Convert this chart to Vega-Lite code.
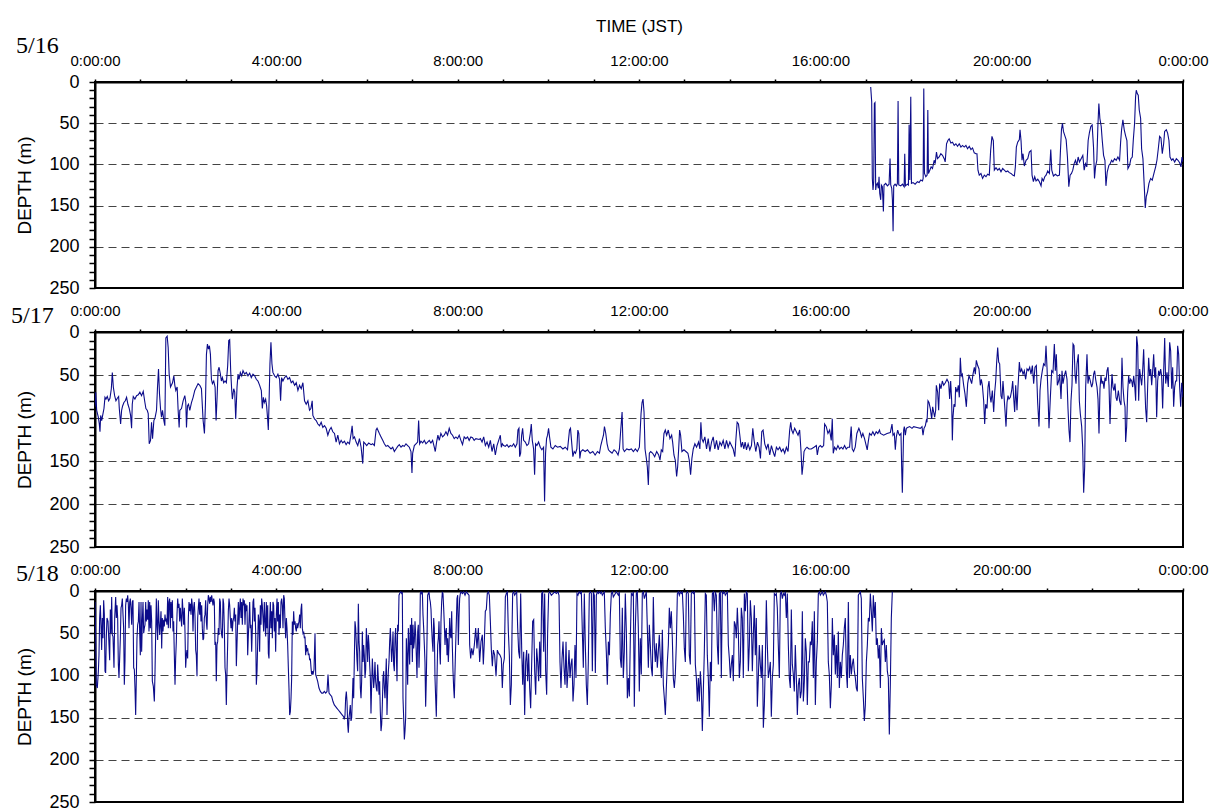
{
"$schema": "https://vega.github.io/schema/vega-lite/v6.json",
"background": "white",
"padding": {"left": 10, "top": 16, "right": 5, "bottom": 5},
"bounds": "flush",
"spacing": 44,
"config": {
 "view": {"stroke": "black", "strokeWidth": 2},
 "font": "Liberation Sans",
 "axis": {"domainColor": "black", "domainWidth": 2, "tickColor": "black", "tickWidth": 1.5, "labelColor": "black", "titleColor": "black", "labelFont": "Liberation Sans", "titleFont": "Liberation Sans", "titleFontWeight": "normal"},
 "title": {"font": "Liberation Serif", "fontSize": 24, "fontWeight": "normal", "color": "black", "anchor": "start", "frame": "group", "baseline": "alphabetic", "offset": 0}
},
"datasets": {
"d16": [
{"t":17.111,"d":6},{"t":17.133,"d":24},{"t":17.147,"d":117},{"t":17.162,"d":131},{"t":17.177,"d":121},{"t":17.192,"d":26},{"t":17.206,"d":25},{"t":17.221,"d":131},{"t":17.236,"d":125},{"t":17.258,"d":123},{"t":17.28,"d":129},{"t":17.295,"d":115},{"t":17.31,"d":135},{"t":17.332,"d":143},{"t":17.346,"d":125},{"t":17.368,"d":127},{"t":17.391,"d":157},{"t":17.405,"d":125},{"t":17.442,"d":123},{"t":17.479,"d":126},{"t":17.516,"d":124},{"t":17.538,"d":93},{"t":17.553,"d":125},{"t":17.575,"d":129},{"t":17.59,"d":143},{"t":17.605,"d":181},{"t":17.619,"d":126},{"t":17.649,"d":124},{"t":17.678,"d":126},{"t":17.7,"d":123},{"t":17.715,"d":23},{"t":17.73,"d":125},{"t":17.774,"d":126},{"t":17.811,"d":124},{"t":17.848,"d":127},{"t":17.862,"d":87},{"t":17.877,"d":126},{"t":17.921,"d":124},{"t":17.943,"d":125},{"t":17.958,"d":52},{"t":17.973,"d":119},{"t":17.995,"d":18},{"t":18.01,"d":123},{"t":18.046,"d":122},{"t":18.091,"d":124},{"t":18.142,"d":121},{"t":18.179,"d":122},{"t":18.216,"d":119},{"t":18.253,"d":120},{"t":18.268,"d":117},{"t":18.282,"d":8},{"t":18.297,"d":111},{"t":18.327,"d":115},{"t":18.356,"d":113},{"t":18.371,"d":34},{"t":18.385,"d":111},{"t":18.415,"d":107},{"t":18.444,"d":103},{"t":18.474,"d":105},{"t":18.511,"d":95},{"t":18.533,"d":99},{"t":18.562,"d":85},{"t":18.585,"d":93},{"t":18.621,"d":91},{"t":18.658,"d":87},{"t":18.695,"d":89},{"t":18.732,"d":93},{"t":18.754,"d":97},{"t":18.784,"d":75},{"t":18.813,"d":71},{"t":18.842,"d":69},{"t":18.879,"d":74},{"t":18.916,"d":73},{"t":18.953,"d":77},{"t":18.99,"d":75},{"t":19.027,"d":78},{"t":19.064,"d":75},{"t":19.101,"d":79},{"t":19.137,"d":77},{"t":19.174,"d":79},{"t":19.211,"d":77},{"t":19.248,"d":81},{"t":19.285,"d":78},{"t":19.322,"d":82},{"t":19.358,"d":80},{"t":19.395,"d":86},{"t":19.432,"d":87},{"t":19.455,"d":87},{"t":19.477,"d":107},{"t":19.506,"d":113},{"t":19.543,"d":111},{"t":19.58,"d":117},{"t":19.617,"d":113},{"t":19.654,"d":115},{"t":19.69,"d":112},{"t":19.727,"d":113},{"t":19.757,"d":83},{"t":19.786,"d":66},{"t":19.816,"d":71},{"t":19.838,"d":107},{"t":19.875,"d":104},{"t":19.912,"d":107},{"t":19.948,"d":105},{"t":19.985,"d":109},{"t":20.022,"d":105},{"t":20.059,"d":107},{"t":20.096,"d":109},{"t":20.133,"d":108},{"t":20.169,"d":110},{"t":20.206,"d":111},{"t":20.243,"d":113},{"t":20.28,"d":114},{"t":20.302,"d":103},{"t":20.324,"d":79},{"t":20.353,"d":73},{"t":20.39,"d":70},{"t":20.405,"d":58},{"t":20.427,"d":71},{"t":20.449,"d":95},{"t":20.471,"d":87},{"t":20.5,"d":102},{"t":20.538,"d":95},{"t":20.575,"d":93},{"t":20.611,"d":85},{"t":20.648,"d":83},{"t":20.67,"d":113},{"t":20.7,"d":121},{"t":20.729,"d":115},{"t":20.759,"d":120},{"t":20.796,"d":118},{"t":20.832,"d":121},{"t":20.869,"d":126},{"t":20.891,"d":117},{"t":20.921,"d":120},{"t":20.95,"d":115},{"t":20.98,"d":113},{"t":21.016,"d":108},{"t":21.053,"d":111},{"t":21.083,"d":82},{"t":21.105,"d":107},{"t":21.142,"d":114},{"t":21.186,"d":112},{"t":21.23,"d":114},{"t":21.274,"d":113},{"t":21.297,"d":83},{"t":21.319,"d":58},{"t":21.341,"d":50},{"t":21.363,"d":60},{"t":21.393,"d":65},{"t":21.422,"d":70},{"t":21.451,"d":91},{"t":21.481,"d":127},{"t":21.51,"d":113},{"t":21.54,"d":111},{"t":21.569,"d":107},{"t":21.599,"d":99},{"t":21.628,"d":95},{"t":21.657,"d":101},{"t":21.687,"d":91},{"t":21.716,"d":97},{"t":21.753,"d":93},{"t":21.79,"d":89},{"t":21.82,"d":107},{"t":21.849,"d":99},{"t":21.878,"d":103},{"t":21.908,"d":71},{"t":21.937,"d":61},{"t":21.967,"d":54},{"t":21.996,"d":52},{"t":22.026,"d":79},{"t":22.048,"d":117},{"t":22.07,"d":103},{"t":22.099,"d":95},{"t":22.122,"d":54},{"t":22.144,"d":26},{"t":22.166,"d":44},{"t":22.196,"d":54},{"t":22.219,"d":71},{"t":22.248,"d":89},{"t":22.278,"d":95},{"t":22.3,"d":126},{"t":22.329,"d":109},{"t":22.366,"d":101},{"t":22.396,"d":99},{"t":22.425,"d":95},{"t":22.453,"d":97},{"t":22.49,"d":93},{"t":22.527,"d":95},{"t":22.564,"d":91},{"t":22.601,"d":95},{"t":22.624,"d":73},{"t":22.645,"d":58},{"t":22.674,"d":46},{"t":22.704,"d":58},{"t":22.733,"d":65},{"t":22.763,"d":71},{"t":22.785,"d":105},{"t":22.822,"d":101},{"t":22.851,"d":93},{"t":22.881,"d":91},{"t":22.903,"d":71},{"t":22.932,"d":50},{"t":22.954,"d":18},{"t":22.969,"d":10},{"t":22.991,"d":14},{"t":23.013,"d":16},{"t":23.035,"d":34},{"t":23.065,"d":44},{"t":23.087,"d":81},{"t":23.116,"d":93},{"t":23.146,"d":127},{"t":23.168,"d":153},{"t":23.19,"d":139},{"t":23.219,"d":133},{"t":23.249,"d":123},{"t":23.286,"d":117},{"t":23.322,"d":119},{"t":23.359,"d":111},{"t":23.396,"d":103},{"t":23.425,"d":95},{"t":23.455,"d":81},{"t":23.484,"d":66},{"t":23.514,"d":68},{"t":23.543,"d":87},{"t":23.573,"d":75},{"t":23.595,"d":60},{"t":23.632,"d":58},{"t":23.661,"d":62},{"t":23.69,"d":71},{"t":23.713,"d":91},{"t":23.749,"d":95},{"t":23.779,"d":93},{"t":23.816,"d":97},{"t":23.853,"d":93},{"t":23.89,"d":95},{"t":23.926,"d":98},{"t":23.956,"d":103},{"t":23.978,"d":91},{"t":24.0,"d":97}
],
"d17": [
{"t":0.0,"d":87},{"t":0.015,"d":70},{"t":0.037,"d":91},{"t":0.073,"d":99},{"t":0.095,"d":107},{"t":0.11,"d":116},{"t":0.125,"d":97},{"t":0.147,"d":103},{"t":0.169,"d":97},{"t":0.198,"d":89},{"t":0.22,"d":76},{"t":0.242,"d":78},{"t":0.271,"d":75},{"t":0.301,"d":80},{"t":0.33,"d":77},{"t":0.36,"d":66},{"t":0.382,"d":47},{"t":0.404,"d":64},{"t":0.433,"d":74},{"t":0.462,"d":80},{"t":0.492,"d":77},{"t":0.521,"d":75},{"t":0.536,"d":89},{"t":0.565,"d":107},{"t":0.587,"d":91},{"t":0.609,"d":86},{"t":0.638,"d":82},{"t":0.668,"d":80},{"t":0.697,"d":76},{"t":0.726,"d":84},{"t":0.756,"d":89},{"t":0.785,"d":97},{"t":0.807,"d":112},{"t":0.822,"d":84},{"t":0.844,"d":75},{"t":0.88,"d":78},{"t":0.917,"d":74},{"t":0.954,"d":73},{"t":0.99,"d":70},{"t":1.027,"d":74},{"t":1.064,"d":69},{"t":1.101,"d":82},{"t":1.123,"d":89},{"t":1.152,"d":91},{"t":1.174,"d":95},{"t":1.196,"d":130},{"t":1.225,"d":126},{"t":1.247,"d":105},{"t":1.269,"d":124},{"t":1.299,"d":103},{"t":1.328,"d":99},{"t":1.357,"d":91},{"t":1.379,"d":64},{"t":1.401,"d":43},{"t":1.423,"d":72},{"t":1.445,"d":89},{"t":1.467,"d":99},{"t":1.489,"d":91},{"t":1.519,"d":103},{"t":1.541,"d":109},{"t":1.563,"d":7},{"t":1.592,"d":5},{"t":1.614,"d":18},{"t":1.636,"d":49},{"t":1.666,"d":64},{"t":1.71,"d":59},{"t":1.739,"d":51},{"t":1.761,"d":62},{"t":1.783,"d":68},{"t":1.812,"d":64},{"t":1.834,"d":91},{"t":1.856,"d":111},{"t":1.871,"d":91},{"t":1.908,"d":89},{"t":1.944,"d":80},{"t":1.981,"d":74},{"t":2.003,"d":82},{"t":2.018,"d":111},{"t":2.04,"d":86},{"t":2.062,"d":84},{"t":2.091,"d":91},{"t":2.128,"d":82},{"t":2.164,"d":76},{"t":2.201,"d":68},{"t":2.238,"d":64},{"t":2.274,"d":60},{"t":2.311,"d":62},{"t":2.348,"d":66},{"t":2.385,"d":103},{"t":2.414,"d":118},{"t":2.436,"d":84},{"t":2.458,"d":26},{"t":2.48,"d":14},{"t":2.502,"d":20},{"t":2.524,"d":16},{"t":2.546,"d":26},{"t":2.568,"d":55},{"t":2.59,"d":60},{"t":2.619,"d":57},{"t":2.649,"d":64},{"t":2.671,"d":103},{"t":2.693,"d":76},{"t":2.715,"d":45},{"t":2.737,"d":41},{"t":2.766,"d":49},{"t":2.788,"d":57},{"t":2.81,"d":53},{"t":2.839,"d":59},{"t":2.869,"d":57},{"t":2.898,"d":59},{"t":2.927,"d":39},{"t":2.95,"d":10},{"t":2.971,"d":9},{"t":2.993,"d":45},{"t":3.016,"d":68},{"t":3.03,"d":78},{"t":3.06,"d":66},{"t":3.082,"d":70},{"t":3.104,"d":101},{"t":3.133,"d":64},{"t":3.155,"d":49},{"t":3.177,"d":55},{"t":3.206,"d":47},{"t":3.236,"d":51},{"t":3.265,"d":45},{"t":3.302,"d":49},{"t":3.338,"d":47},{"t":3.375,"d":51},{"t":3.412,"d":48},{"t":3.448,"d":53},{"t":3.485,"d":49},{"t":3.522,"d":51},{"t":3.558,"d":55},{"t":3.595,"d":57},{"t":3.632,"d":62},{"t":3.669,"d":68},{"t":3.691,"d":89},{"t":3.713,"d":76},{"t":3.735,"d":82},{"t":3.764,"d":78},{"t":3.786,"d":86},{"t":3.808,"d":101},{"t":3.823,"d":114},{"t":3.837,"d":87},{"t":3.859,"d":37},{"t":3.881,"d":12},{"t":3.903,"d":37},{"t":3.925,"d":47},{"t":3.962,"d":51},{"t":3.999,"d":53},{"t":4.035,"d":49},{"t":4.072,"d":55},{"t":4.094,"d":80},{"t":4.116,"d":53},{"t":4.145,"d":57},{"t":4.182,"d":53},{"t":4.219,"d":51},{"t":4.255,"d":55},{"t":4.292,"d":53},{"t":4.329,"d":59},{"t":4.365,"d":57},{"t":4.402,"d":62},{"t":4.439,"d":59},{"t":4.476,"d":68},{"t":4.512,"d":62},{"t":4.549,"d":66},{"t":4.586,"d":59},{"t":4.622,"d":80},{"t":4.659,"d":84},{"t":4.696,"d":80},{"t":4.732,"d":91},{"t":4.762,"d":89},{"t":4.791,"d":80},{"t":4.806,"d":97},{"t":4.842,"d":101},{"t":4.879,"d":103},{"t":4.916,"d":107},{"t":4.953,"d":109},{"t":4.989,"d":105},{"t":5.026,"d":111},{"t":5.063,"d":109},{"t":5.099,"d":112},{"t":5.136,"d":120},{"t":5.173,"d":114},{"t":5.209,"d":111},{"t":5.246,"d":116},{"t":5.283,"d":118},{"t":5.319,"d":128},{"t":5.356,"d":120},{"t":5.393,"d":130},{"t":5.43,"d":126},{"t":5.466,"d":129},{"t":5.503,"d":127},{"t":5.54,"d":131},{"t":5.576,"d":128},{"t":5.613,"d":130},{"t":5.65,"d":118},{"t":5.672,"d":109},{"t":5.694,"d":124},{"t":5.723,"d":122},{"t":5.76,"d":128},{"t":5.796,"d":132},{"t":5.833,"d":124},{"t":5.87,"d":134},{"t":5.906,"d":153},{"t":5.928,"d":128},{"t":5.965,"d":130},{"t":5.994,"d":132},{"t":6.038,"d":129},{"t":6.09,"d":131},{"t":6.126,"d":130},{"t":6.163,"d":132},{"t":6.2,"d":114},{"t":6.222,"d":112},{"t":6.273,"d":118},{"t":6.31,"d":122},{"t":6.347,"d":126},{"t":6.383,"d":130},{"t":6.42,"d":133},{"t":6.457,"d":132},{"t":6.493,"d":134},{"t":6.53,"d":136},{"t":6.567,"d":134},{"t":6.603,"d":139},{"t":6.64,"d":136},{"t":6.677,"d":133},{"t":6.713,"d":131},{"t":6.75,"d":134},{"t":6.787,"d":132},{"t":6.823,"d":133},{"t":6.86,"d":130},{"t":6.897,"d":132},{"t":6.934,"d":134},{"t":6.97,"d":139},{"t":6.992,"d":164},{"t":7.007,"d":141},{"t":7.044,"d":132},{"t":7.08,"d":130},{"t":7.117,"d":128},{"t":7.139,"d":103},{"t":7.161,"d":130},{"t":7.19,"d":127},{"t":7.227,"d":129},{"t":7.264,"d":126},{"t":7.3,"d":130},{"t":7.337,"d":128},{"t":7.374,"d":126},{"t":7.41,"d":129},{"t":7.447,"d":126},{"t":7.484,"d":134},{"t":7.506,"d":139},{"t":7.535,"d":128},{"t":7.564,"d":120},{"t":7.594,"d":126},{"t":7.63,"d":118},{"t":7.667,"d":122},{"t":7.704,"d":120},{"t":7.741,"d":116},{"t":7.777,"d":120},{"t":7.814,"d":112},{"t":7.851,"d":118},{"t":7.887,"d":120},{"t":7.924,"d":124},{"t":7.961,"d":122},{"t":7.997,"d":124},{"t":8.034,"d":120},{"t":8.071,"d":126},{"t":8.107,"d":131},{"t":8.144,"d":122},{"t":8.181,"d":124},{"t":8.218,"d":122},{"t":8.254,"d":126},{"t":8.291,"d":122},{"t":8.328,"d":123},{"t":8.364,"d":126},{"t":8.401,"d":124},{"t":8.474,"d":125},
{"t":8.501,"d":124},{"t":8.538,"d":128},{"t":8.574,"d":122},{"t":8.611,"d":132},{"t":8.648,"d":128},{"t":8.685,"d":134},{"t":8.721,"d":126},{"t":8.758,"d":139},{"t":8.795,"d":130},{"t":8.831,"d":143},{"t":8.868,"d":132},{"t":8.905,"d":126},{"t":8.941,"d":120},{"t":8.963,"d":134},{"t":8.985,"d":130},{"t":9.015,"d":132},{"t":9.051,"d":133},{"t":9.088,"d":131},{"t":9.125,"d":134},{"t":9.161,"d":132},{"t":9.198,"d":133},{"t":9.235,"d":130},{"t":9.271,"d":134},{"t":9.308,"d":130},{"t":9.33,"d":114},{"t":9.352,"d":112},{"t":9.367,"d":145},{"t":9.389,"d":141},{"t":9.411,"d":120},{"t":9.433,"d":112},{"t":9.455,"d":126},{"t":9.492,"d":128},{"t":9.528,"d":132},{"t":9.565,"d":130},{"t":9.602,"d":118},{"t":9.624,"d":107},{"t":9.646,"d":126},{"t":9.675,"d":136},{"t":9.697,"d":166},{"t":9.719,"d":130},{"t":9.748,"d":132},{"t":9.785,"d":128},{"t":9.822,"d":134},{"t":9.858,"d":137},{"t":9.895,"d":134},{"t":9.917,"d":197},{"t":9.939,"d":141},{"t":9.961,"d":124},{"t":9.983,"d":120},{"t":10.005,"d":112},{"t":10.027,"d":122},{"t":10.057,"d":134},{"t":10.101,"d":136},{"t":10.152,"d":132},{"t":10.203,"d":134},{"t":10.262,"d":133},{"t":10.321,"d":136},{"t":10.372,"d":134},{"t":10.423,"d":137},{"t":10.467,"d":114},{"t":10.489,"d":112},{"t":10.511,"d":126},{"t":10.541,"d":145},{"t":10.57,"d":139},{"t":10.599,"d":141},{"t":10.629,"d":136},{"t":10.651,"d":114},{"t":10.673,"d":118},{"t":10.695,"d":147},{"t":10.717,"d":139},{"t":10.761,"d":137},{"t":10.812,"d":139},{"t":10.864,"d":137},{"t":10.922,"d":141},{"t":10.981,"d":139},{"t":11.032,"d":143},{"t":11.084,"d":139},{"t":11.128,"d":141},{"t":11.157,"d":132},{"t":11.186,"d":126},{"t":11.216,"d":120},{"t":11.238,"d":110},{"t":11.267,"d":118},{"t":11.296,"d":130},{"t":11.326,"d":137},{"t":11.362,"d":139},{"t":11.406,"d":141},{"t":11.45,"d":137},{"t":11.494,"d":139},{"t":11.538,"d":143},{"t":11.568,"d":136},{"t":11.597,"d":114},{"t":11.627,"d":93},{"t":11.649,"d":136},{"t":11.678,"d":139},{"t":11.729,"d":136},{"t":11.781,"d":137},{"t":11.832,"d":136},{"t":11.876,"d":139},{"t":11.92,"d":136},{"t":11.964,"d":139},{"t":12.008,"d":134},{"t":12.045,"d":95},{"t":12.067,"d":82},{"t":12.089,"d":78},{"t":12.111,"d":93},{"t":12.133,"d":136},{"t":12.162,"d":147},{"t":12.184,"d":157},{"t":12.206,"d":178},{"t":12.228,"d":141},{"t":12.258,"d":139},{"t":12.302,"d":141},{"t":12.346,"d":145},{"t":12.39,"d":139},{"t":12.434,"d":143},{"t":12.463,"d":149},{"t":12.492,"d":137},{"t":12.522,"d":139},{"t":12.551,"d":118},{"t":12.58,"d":114},{"t":12.61,"d":120},{"t":12.646,"d":114},{"t":12.683,"d":124},{"t":12.72,"d":120},{"t":12.742,"d":128},{"t":12.771,"d":143},{"t":12.8,"d":149},{"t":12.83,"d":168},{"t":12.852,"d":157},{"t":12.874,"d":137},{"t":12.896,"d":114},{"t":12.918,"d":120},{"t":12.947,"d":139},{"t":12.991,"d":137},{"t":13.035,"d":139},{"t":13.079,"d":141},{"t":13.109,"d":149},{"t":13.138,"d":166},{"t":13.167,"d":147},{"t":13.197,"d":136},{"t":13.233,"d":130},{"t":13.27,"d":134},{"t":13.314,"d":128},{"t":13.343,"d":136},{"t":13.365,"d":105},{"t":13.387,"d":124},{"t":13.417,"d":128},{"t":13.453,"d":122},{"t":13.49,"d":136},{"t":13.527,"d":124},{"t":13.563,"d":139},{"t":13.6,"d":128},{"t":13.637,"d":122},{"t":13.673,"d":136},{"t":13.71,"d":126},{"t":13.747,"d":137},{"t":13.784,"d":128},{"t":13.82,"d":132},{"t":13.857,"d":126},{"t":13.894,"d":136},{"t":13.93,"d":126},{"t":13.967,"d":134},{"t":14.004,"d":128},{"t":14.04,"d":132},{"t":14.077,"d":136},{"t":14.114,"d":145},{"t":14.136,"d":126},{"t":14.165,"d":105},{"t":14.194,"d":107},{"t":14.224,"d":120},{"t":14.253,"d":134},{"t":14.283,"d":128},{"t":14.312,"d":136},{"t":14.341,"d":128},{"t":14.371,"d":137},{"t":14.407,"d":130},{"t":14.444,"d":137},{"t":14.481,"d":132},{"t":14.51,"d":112},{"t":14.539,"d":126},{"t":14.576,"d":139},{"t":14.613,"d":128},{"t":14.649,"d":134},{"t":14.679,"d":147},{"t":14.708,"d":116},{"t":14.737,"d":114},{"t":14.774,"d":130},{"t":14.811,"d":136},{"t":14.847,"d":130},{"t":14.884,"d":143},{"t":14.921,"d":132},{"t":14.957,"d":139},{"t":14.994,"d":145},{"t":15.031,"d":134},{"t":15.067,"d":137},{"t":15.104,"d":134},{"t":15.141,"d":139},{"t":15.178,"d":136},{"t":15.214,"d":141},{"t":15.251,"d":134},{"t":15.288,"d":139},{"t":15.324,"d":114},{"t":15.346,"d":105},{"t":15.368,"d":114},{"t":15.398,"d":118},{"t":15.434,"d":112},{"t":15.471,"d":116},{"t":15.508,"d":120},{"t":15.544,"d":114},{"t":15.574,"d":139},{"t":15.596,"d":166},{"t":15.618,"d":155},{"t":15.64,"d":139},{"t":15.669,"d":136},{"t":15.706,"d":134},{"t":15.75,"d":136},{"t":15.801,"d":136},{"t":15.86,"d":134},{"t":15.912,"d":132},{"t":15.933,"d":143},{"t":15.963,"d":134},{"t":15.999,"d":132},{"t":16.036,"d":134},{"t":16.073,"d":132},{"t":16.095,"d":107},{"t":16.131,"d":110},{"t":16.168,"d":118},{"t":16.205,"d":114},{"t":16.241,"d":126},{"t":16.263,"d":101},{"t":16.285,"d":141},{"t":16.315,"d":134},{"t":16.351,"d":137},{"t":16.388,"d":132},{"t":16.425,"d":136},{"t":16.461,"d":134},{"t":16.498,"d":136},{"t":16.535,"d":132},{"t":16.571,"d":136},{"t":16.608,"d":134},{"t":16.645,"d":134},{"t":16.681,"d":110},{"t":16.703,"d":136},{"t":16.733,"d":139},{"t":16.769,"d":134},{"t":16.806,"d":118},{"t":16.85,"d":112},{"t":16.879,"d":116},{"t":16.909,"d":122},{"t":16.938,"d":118},{"t":16.975,"d":124},{"t":17.012,"d":132},{"t":17.034,"d":137},{"t":17.056,"d":128},{"t":17.085,"d":118},{"t":17.122,"d":120},{"t":17.158,"d":116},{"t":17.195,"d":120},{"t":17.232,"d":116},{"t":17.268,"d":118},{"t":17.305,"d":114},
{"t":17.324,"d":118},{"t":17.397,"d":120},{"t":17.471,"d":118},{"t":17.544,"d":117},{"t":17.581,"d":107},{"t":17.603,"d":120},{"t":17.632,"d":118},{"t":17.654,"d":137},{"t":17.676,"d":122},{"t":17.706,"d":114},{"t":17.728,"d":118},{"t":17.75,"d":120},{"t":17.779,"d":118},{"t":17.794,"d":157},{"t":17.809,"d":187},{"t":17.824,"d":149},{"t":17.838,"d":114},{"t":17.853,"d":110},{"t":17.875,"d":120},{"t":17.897,"d":112},{"t":17.926,"d":111},{"t":17.971,"d":110},{"t":18.022,"d":112},{"t":18.059,"d":110},{"t":18.132,"d":111},{"t":18.206,"d":112},{"t":18.243,"d":110},{"t":18.265,"d":120},{"t":18.287,"d":112},{"t":18.316,"d":109},{"t":18.338,"d":103},{"t":18.353,"d":105},{"t":18.375,"d":80},{"t":18.397,"d":82},{"t":18.426,"d":89},{"t":18.456,"d":101},{"t":18.478,"d":87},{"t":18.5,"d":93},{"t":18.522,"d":99},{"t":18.544,"d":91},{"t":18.559,"d":62},{"t":18.588,"d":70},{"t":18.61,"d":91},{"t":18.632,"d":60},{"t":18.662,"d":66},{"t":18.691,"d":57},{"t":18.721,"d":62},{"t":18.757,"d":59},{"t":18.794,"d":55},{"t":18.831,"d":59},{"t":18.853,"d":78},{"t":18.875,"d":57},{"t":18.897,"d":80},{"t":18.912,"d":126},{"t":18.926,"d":99},{"t":18.948,"d":84},{"t":18.971,"d":87},{"t":18.985,"d":64},{"t":19.015,"d":70},{"t":19.044,"d":62},{"t":19.066,"d":76},{"t":19.088,"d":30},{"t":19.11,"d":51},{"t":19.132,"d":49},{"t":19.162,"d":62},{"t":19.191,"d":72},{"t":19.221,"d":87},{"t":19.25,"d":60},{"t":19.279,"d":51},{"t":19.309,"d":55},{"t":19.338,"d":60},{"t":19.368,"d":49},{"t":19.397,"d":41},{"t":19.419,"d":49},{"t":19.441,"d":33},{"t":19.471,"d":39},{"t":19.5,"d":43},{"t":19.529,"d":62},{"t":19.551,"d":55},{"t":19.574,"d":62},{"t":19.603,"d":80},{"t":19.625,"d":107},{"t":19.647,"d":84},{"t":19.677,"d":89},{"t":19.699,"d":64},{"t":19.721,"d":57},{"t":19.743,"d":74},{"t":19.765,"d":82},{"t":19.794,"d":68},{"t":19.824,"d":93},{"t":19.846,"d":70},{"t":19.868,"d":57},{"t":19.89,"d":35},{"t":19.912,"d":18},{"t":19.934,"d":35},{"t":19.956,"d":37},{"t":19.985,"d":74},{"t":20.007,"d":78},{"t":20.029,"d":57},{"t":20.051,"d":74},{"t":20.073,"d":91},{"t":20.096,"d":110},{"t":20.118,"d":82},{"t":20.14,"d":74},{"t":20.162,"d":78},{"t":20.191,"d":76},{"t":20.221,"d":68},{"t":20.243,"d":57},{"t":20.265,"d":76},{"t":20.287,"d":93},{"t":20.309,"d":62},{"t":20.338,"d":91},{"t":20.36,"d":64},{"t":20.39,"d":35},{"t":20.412,"d":47},{"t":20.441,"d":43},{"t":20.471,"d":49},{"t":20.5,"d":45},{"t":20.529,"d":55},{"t":20.559,"d":43},{"t":20.588,"d":45},{"t":20.618,"d":41},{"t":20.647,"d":49},{"t":20.677,"d":39},{"t":20.706,"d":60},{"t":20.735,"d":41},{"t":20.765,"d":39},{"t":20.794,"d":82},{"t":20.824,"d":110},{"t":20.846,"d":68},{"t":20.868,"d":55},{"t":20.897,"d":45},{"t":20.926,"d":37},{"t":20.956,"d":39},{"t":20.978,"d":16},{"t":21.0,"d":41},{"t":21.022,"d":72},{"t":21.044,"d":112},{"t":21.074,"d":76},{"t":21.103,"d":45},{"t":21.132,"d":47},{"t":21.162,"d":14},{"t":21.184,"d":45},{"t":21.206,"d":26},{"t":21.228,"d":62},{"t":21.257,"d":57},{"t":21.279,"d":49},{"t":21.309,"d":78},{"t":21.331,"d":45},{"t":21.353,"d":60},{"t":21.382,"d":51},{"t":21.412,"d":45},{"t":21.441,"d":55},{"t":21.463,"d":89},{"t":21.485,"d":114},{"t":21.507,"d":128},{"t":21.529,"d":80},{"t":21.551,"d":62},{"t":21.574,"d":14},{"t":21.596,"d":16},{"t":21.618,"d":49},{"t":21.64,"d":60},{"t":21.662,"d":37},{"t":21.691,"d":26},{"t":21.713,"d":80},{"t":21.735,"d":95},{"t":21.765,"d":110},{"t":21.787,"d":134},{"t":21.809,"d":187},{"t":21.831,"d":157},{"t":21.853,"d":64},{"t":21.882,"d":26},{"t":21.904,"d":60},{"t":21.926,"d":51},{"t":21.956,"d":57},{"t":21.985,"d":64},{"t":22.007,"d":60},{"t":22.029,"d":49},{"t":22.051,"d":45},{"t":22.073,"d":55},{"t":22.103,"d":64},{"t":22.125,"d":78},{"t":22.147,"d":118},{"t":22.169,"d":66},{"t":22.191,"d":51},{"t":22.213,"d":60},{"t":22.235,"d":57},{"t":22.257,"d":66},{"t":22.279,"d":53},{"t":22.301,"d":57},{"t":22.324,"d":45},{"t":22.346,"d":41},{"t":22.368,"d":62},{"t":22.39,"d":107},{"t":22.412,"d":72},{"t":22.434,"d":49},{"t":22.456,"d":64},{"t":22.478,"d":68},{"t":22.5,"d":60},{"t":22.522,"d":76},{"t":22.544,"d":80},{"t":22.574,"d":68},{"t":22.603,"d":80},{"t":22.632,"d":85},{"t":22.654,"d":30},{"t":22.676,"d":64},{"t":22.699,"d":80},{"t":22.721,"d":87},{"t":22.735,"d":128},{"t":22.757,"d":110},{"t":22.779,"d":70},{"t":22.801,"d":51},{"t":22.824,"d":60},{"t":22.846,"d":55},{"t":22.868,"d":57},{"t":22.89,"d":64},{"t":22.912,"d":51},{"t":22.934,"d":62},{"t":22.956,"d":80},{"t":22.978,"d":5},{"t":23.0,"d":16},{"t":23.022,"d":80},{"t":23.044,"d":43},{"t":23.066,"d":53},{"t":23.088,"d":62},{"t":23.11,"d":45},{"t":23.132,"d":20},{"t":23.154,"d":57},{"t":23.176,"d":89},{"t":23.199,"d":105},{"t":23.221,"d":62},{"t":23.243,"d":30},{"t":23.265,"d":51},{"t":23.287,"d":43},{"t":23.309,"d":62},{"t":23.331,"d":45},{"t":23.353,"d":26},{"t":23.375,"d":53},{"t":23.397,"d":41},{"t":23.419,"d":99},{"t":23.441,"d":57},{"t":23.463,"d":45},{"t":23.485,"d":51},{"t":23.507,"d":43},{"t":23.529,"d":51},{"t":23.551,"d":89},{"t":23.574,"d":45},{"t":23.596,"d":7},{"t":23.618,"d":60},{"t":23.647,"d":47},{"t":23.676,"d":64},{"t":23.706,"d":12},{"t":23.728,"d":22},{"t":23.75,"d":66},{"t":23.772,"d":41},{"t":23.794,"d":87},{"t":23.816,"d":64},{"t":23.838,"d":57},{"t":23.86,"d":57},{"t":23.882,"d":16},{"t":23.904,"d":26},{"t":23.926,"d":64},{"t":23.949,"d":87},{"t":23.971,"d":59},{"t":24.0,"d":76}
],
"d18": [
{"t":0.0,"d":13},{"t":0.015,"d":56},{"t":0.029,"d":111},{"t":0.051,"d":115},{"t":0.074,"d":95},{"t":0.088,"d":76},{"t":0.103,"d":32},{"t":0.118,"d":17},{"t":0.132,"d":40},{"t":0.147,"d":70},{"t":0.162,"d":32},{"t":0.176,"d":56},{"t":0.191,"d":11},{"t":0.206,"d":28},{"t":0.221,"d":95},{"t":0.235,"d":97},{"t":0.25,"d":54},{"t":0.265,"d":32},{"t":0.287,"d":36},{"t":0.309,"d":64},{"t":0.324,"d":82},{"t":0.338,"d":22},{"t":0.353,"d":50},{"t":0.368,"d":7},{"t":0.382,"d":52},{"t":0.397,"d":54},{"t":0.419,"d":91},{"t":0.434,"d":32},{"t":0.456,"d":7},{"t":0.471,"d":32},{"t":0.485,"d":17},{"t":0.5,"d":32},{"t":0.515,"d":87},{"t":0.529,"d":103},{"t":0.544,"d":80},{"t":0.559,"d":56},{"t":0.574,"d":20},{"t":0.588,"d":17},{"t":0.603,"d":9},{"t":0.618,"d":28},{"t":0.632,"d":44},{"t":0.647,"d":111},{"t":0.662,"d":82},{"t":0.676,"d":17},{"t":0.691,"d":9},{"t":0.706,"d":13},{"t":0.721,"d":5},{"t":0.735,"d":15},{"t":0.75,"d":44},{"t":0.765,"d":13},{"t":0.779,"d":9},{"t":0.794,"d":20},{"t":0.809,"d":40},{"t":0.824,"d":13},{"t":0.838,"d":11},{"t":0.853,"d":91},{"t":0.868,"d":93},{"t":0.882,"d":115},{"t":0.897,"d":147},{"t":0.912,"d":103},{"t":0.926,"d":56},{"t":0.941,"d":40},{"t":0.956,"d":36},{"t":0.971,"d":13},{"t":0.985,"d":48},{"t":1.0,"d":76},{"t":1.015,"d":13},{"t":1.029,"d":72},{"t":1.044,"d":36},{"t":1.059,"d":13},{"t":1.074,"d":50},{"t":1.088,"d":44},{"t":1.103,"d":40},{"t":1.118,"d":13},{"t":1.132,"d":36},{"t":1.147,"d":22},{"t":1.162,"d":34},{"t":1.176,"d":11},{"t":1.191,"d":48},{"t":1.206,"d":13},{"t":1.221,"d":44},{"t":1.235,"d":17},{"t":1.25,"d":36},{"t":1.265,"d":107},{"t":1.287,"d":113},{"t":1.309,"d":131},{"t":1.324,"d":95},{"t":1.338,"d":52},{"t":1.353,"d":9},{"t":1.368,"d":42},{"t":1.382,"d":58},{"t":1.397,"d":11},{"t":1.412,"d":36},{"t":1.426,"d":52},{"t":1.441,"d":40},{"t":1.456,"d":24},{"t":1.471,"d":68},{"t":1.485,"d":32},{"t":1.5,"d":48},{"t":1.515,"d":34},{"t":1.529,"d":42},{"t":1.544,"d":28},{"t":1.559,"d":36},{"t":1.574,"d":34},{"t":1.588,"d":40},{"t":1.603,"d":7},{"t":1.618,"d":44},{"t":1.632,"d":13},{"t":1.647,"d":9},{"t":1.662,"d":44},{"t":1.676,"d":13},{"t":1.691,"d":32},{"t":1.706,"d":11},{"t":1.721,"d":48},{"t":1.735,"d":36},{"t":1.75,"d":76},{"t":1.765,"d":111},{"t":1.779,"d":80},{"t":1.794,"d":60},{"t":1.809,"d":28},{"t":1.824,"d":9},{"t":1.838,"d":20},{"t":1.853,"d":15},{"t":1.868,"d":36},{"t":1.882,"d":20},{"t":1.897,"d":32},{"t":1.912,"d":42},{"t":1.926,"d":9},{"t":1.941,"d":24},{"t":1.956,"d":40},{"t":1.971,"d":20},{"t":1.985,"d":48},{"t":2.0,"d":91},{"t":2.015,"d":76},{"t":2.029,"d":70},{"t":2.044,"d":80},{"t":2.059,"d":32},{"t":2.074,"d":13},{"t":2.088,"d":24},{"t":2.103,"d":15},{"t":2.118,"d":28},{"t":2.132,"d":9},{"t":2.147,"d":17},{"t":2.162,"d":48},{"t":2.176,"d":20},{"t":2.191,"d":13},{"t":2.206,"d":30},{"t":2.221,"d":70},{"t":2.235,"d":76},{"t":2.25,"d":101},{"t":2.265,"d":32},{"t":2.279,"d":20},{"t":2.294,"d":9},{"t":2.309,"d":28},{"t":2.324,"d":13},{"t":2.338,"d":36},{"t":2.353,"d":17},{"t":2.368,"d":44},{"t":2.382,"d":58},{"t":2.397,"d":56},{"t":2.412,"d":32},{"t":2.426,"d":28},{"t":2.441,"d":11},{"t":2.456,"d":36},{"t":2.471,"d":46},{"t":2.485,"d":17},{"t":2.5,"d":5},{"t":2.515,"d":9},{"t":2.529,"d":15},{"t":2.544,"d":7},{"t":2.559,"d":13},{"t":2.574,"d":5},{"t":2.588,"d":11},{"t":2.603,"d":17},{"t":2.618,"d":9},{"t":2.632,"d":13},{"t":2.647,"d":64},{"t":2.662,"d":60},{"t":2.676,"d":107},{"t":2.691,"d":64},{"t":2.706,"d":60},{"t":2.721,"d":44},{"t":2.735,"d":52},{"t":2.75,"d":9},{"t":2.765,"d":13},{"t":2.779,"d":44},{"t":2.794,"d":52},{"t":2.809,"d":56},{"t":2.824,"d":9},{"t":2.838,"d":15},{"t":2.853,"d":44},{"t":2.868,"d":91},{"t":2.882,"d":99},{"t":2.897,"d":135},{"t":2.912,"d":95},{"t":2.926,"d":64},{"t":2.941,"d":24},{"t":2.956,"d":9},{"t":2.971,"d":17},{"t":2.985,"d":32},{"t":3.0,"d":44},{"t":3.015,"d":32},{"t":3.029,"d":48},{"t":3.044,"d":36},{"t":3.059,"d":32},{"t":3.074,"d":20},{"t":3.088,"d":36},{"t":3.103,"d":28},{"t":3.118,"d":89},{"t":3.132,"d":64},{"t":3.147,"d":36},{"t":3.162,"d":13},{"t":3.176,"d":40},{"t":3.191,"d":20},{"t":3.206,"d":9},{"t":3.221,"d":32},{"t":3.235,"d":13},{"t":3.25,"d":40},{"t":3.265,"d":9},{"t":3.279,"d":17},{"t":3.294,"d":11},{"t":3.309,"d":40},{"t":3.324,"d":15},{"t":3.338,"d":24},{"t":3.353,"d":17},{"t":3.368,"d":76},{"t":3.382,"d":54},{"t":3.397,"d":36},{"t":3.412,"d":13},{"t":3.426,"d":44},{"t":3.441,"d":40},{"t":3.456,"d":72},{"t":3.471,"d":44},{"t":3.485,"d":13},{"t":3.5,"d":9},{"t":3.515,"d":36},{"t":3.529,"d":20},{"t":3.544,"d":48},{"t":3.559,"d":111},{"t":3.574,"d":95},{"t":3.588,"d":64},{"t":3.603,"d":28},{"t":3.618,"d":36},{"t":3.632,"d":72},{"t":3.647,"d":17},{"t":3.662,"d":40},{"t":3.676,"d":9},{"t":3.691,"d":17},{"t":3.706,"d":32},{"t":3.721,"d":48},{"t":3.735,"d":13},{"t":3.75,"d":36},{"t":3.765,"d":54},{"t":3.779,"d":13},{"t":3.794,"d":44},{"t":3.809,"d":17},{"t":3.824,"d":74},{"t":3.838,"d":80},{"t":3.853,"d":36},{"t":3.868,"d":13},{"t":3.882,"d":44},{"t":3.897,"d":24},{"t":3.912,"d":56},{"t":3.926,"d":13},{"t":3.941,"d":17},{"t":3.956,"d":48},{"t":3.971,"d":32},{"t":3.985,"d":72},{"t":4.0,"d":28},{"t":4.015,"d":9},{"t":4.029,"d":36},{"t":4.044,"d":13},{"t":4.059,"d":52},{"t":4.074,"d":28},{"t":4.088,"d":44},{"t":4.103,"d":13},{"t":4.118,"d":9},{"t":4.132,"d":17},{"t":4.147,"d":44},{"t":4.162,"d":5},{"t":4.176,"d":9},{"t":4.191,"d":36},{"t":4.206,"d":56},{"t":4.221,"d":32},{"t":4.235,"d":44},{"t":4.25,"d":64},{"t":4.265,"d":91},{"t":4.279,"d":115},{"t":4.294,"d":147},{"t":4.309,"d":143},{"t":4.324,"d":127},{"t":4.338,"d":103},{"t":4.353,"d":36},{"t":4.368,"d":52},{"t":4.382,"d":24},{"t":4.397,"d":40},{"t":4.412,"d":36},{"t":4.426,"d":44},{"t":4.441,"d":48},{"t":4.456,"d":38},{"t":4.471,"d":44},{"t":4.485,"d":40},{"t":4.5,"d":36},{"t":4.515,"d":28},{"t":4.529,"d":44},{"t":4.544,"d":22},{"t":4.559,"d":15},{"t":4.574,"d":44},{"t":4.588,"d":50},{"t":4.603,"d":48},{"t":4.618,"d":56},{"t":4.632,"d":54},{"t":4.647,"d":76},{"t":4.662,"d":64},{"t":4.676,"d":70},{"t":4.691,"d":68},{"t":4.706,"d":76},{"t":4.721,"d":74},{"t":4.735,"d":82},{"t":4.75,"d":80},{"t":4.765,"d":91},{"t":4.779,"d":99},{"t":4.794,"d":95},{"t":4.809,"d":99},{"t":4.831,"d":93},{"t":4.853,"d":50},{"t":4.868,"d":99},{"t":4.89,"d":103},{"t":4.912,"d":107},{"t":4.941,"d":115},{"t":4.971,"d":119},{"t":5.0,"d":121},{"t":5.029,"d":121},{"t":5.059,"d":119},{"t":5.088,"d":121},{"t":5.118,"d":119},{"t":5.14,"d":99},{"t":5.162,"d":121},{"t":5.191,"d":123},{"t":5.221,"d":125},{"t":5.25,"d":131},{"t":5.279,"d":135},{"t":5.309,"d":137},{"t":5.338,"d":139},{"t":5.368,"d":141},{"t":5.397,"d":143},{"t":5.426,"d":145},{"t":5.456,"d":147},{"t":5.485,"d":149},{"t":5.5,"d":152},{"t":5.515,"d":147},{"t":5.529,"d":127},{"t":5.544,"d":119},{"t":5.559,"d":131},{"t":5.574,"d":158},{"t":5.588,"d":168},{"t":5.603,"d":150},{"t":5.618,"d":143},{"t":5.632,"d":135},{"t":5.647,"d":154},{"t":5.662,"d":150},{"t":5.676,"d":129},{"t":5.691,"d":103},{"t":5.706,"d":127},{"t":5.721,"d":80},{"t":5.735,"d":36},{"t":5.75,"d":44},{"t":5.765,"d":64},{"t":5.779,"d":82},{"t":5.794,"d":95},{"t":5.809,"d":15},{"t":5.824,"d":60},{"t":5.838,"d":72},{"t":5.853,"d":115},{"t":5.868,"d":127},{"t":5.882,"d":107},{"t":5.897,"d":48},{"t":5.912,"d":84},{"t":5.926,"d":64},{"t":5.941,"d":76},{"t":5.956,"d":103},{"t":5.971,"d":93},{"t":5.985,"d":44},{"t":6.0,"d":60},{"t":6.015,"d":84},{"t":6.029,"d":52},{"t":6.044,"d":64},{"t":6.059,"d":87},{"t":6.074,"d":103},{"t":6.088,"d":145},{"t":6.103,"d":111},{"t":6.118,"d":80},{"t":6.132,"d":99},{"t":6.147,"d":115},{"t":6.162,"d":103},{"t":6.176,"d":84},{"t":6.191,"d":107},{"t":6.206,"d":115},{"t":6.221,"d":119},{"t":6.235,"d":87},{"t":6.25,"d":103},{"t":6.265,"d":123},{"t":6.279,"d":107},{"t":6.294,"d":143},{"t":6.309,"d":166},{"t":6.324,"d":158},{"t":6.338,"d":135},{"t":6.353,"d":103},{"t":6.368,"d":95},{"t":6.382,"d":115},{"t":6.397,"d":127},{"t":6.412,"d":103},{"t":6.426,"d":80},{"t":6.441,"d":147},{"t":6.456,"d":115},{"t":6.471,"d":95},{"t":6.485,"d":84},{"t":6.5,"d":60},{"t":6.515,"d":44},{"t":6.529,"d":64},{"t":6.544,"d":84},{"t":6.559,"d":68},{"t":6.574,"d":48},{"t":6.588,"d":87},{"t":6.603,"d":95},{"t":6.618,"d":56},{"t":6.632,"d":44},{"t":6.647,"d":72},{"t":6.662,"d":107},{"t":6.676,"d":40},{"t":6.691,"d":48},{"t":6.706,"d":5},{"t":6.721,"d":3},{"t":6.743,"d":1},{"t":6.765,"d":3},{"t":6.779,"d":1},{"t":6.794,"d":127},{"t":6.809,"d":150},{"t":6.824,"d":176},{"t":6.838,"d":166},{"t":6.853,"d":150},{"t":6.868,"d":56},{"t":6.882,"d":76},{"t":6.897,"d":111},{"t":6.912,"d":44},{"t":6.926,"d":64},{"t":6.941,"d":87},{"t":6.956,"d":40},{"t":6.971,"d":64},{"t":6.985,"d":32},{"t":7.0,"d":84},{"t":7.015,"d":40},{"t":7.029,"d":68},{"t":7.044,"d":60},{"t":7.059,"d":36},{"t":7.074,"d":52},{"t":7.088,"d":76},{"t":7.103,"d":103},{"t":7.118,"d":48},{"t":7.132,"d":40},{"t":7.147,"d":91},{"t":7.162,"d":64},{"t":7.176,"d":3},{"t":7.191,"d":1},{"t":7.206,"d":3},{"t":7.221,"d":1},{"t":7.235,"d":28},{"t":7.25,"d":44},{"t":7.265,"d":64},{"t":7.279,"d":84},{"t":7.294,"d":137},{"t":7.309,"d":103},{"t":7.324,"d":56},{"t":7.338,"d":5},{"t":7.353,"d":3},{"t":7.368,"d":1},{"t":7.382,"d":9},{"t":7.397,"d":13},{"t":7.412,"d":22},{"t":7.426,"d":44},{"t":7.441,"d":60},{"t":7.456,"d":72},{"t":7.471,"d":32},{"t":7.485,"d":44},{"t":7.5,"d":103},{"t":7.515,"d":127},{"t":7.529,"d":149},{"t":7.544,"d":103},{"t":7.559,"d":64},{"t":7.574,"d":56},{"t":7.588,"d":36},{"t":7.603,"d":70},{"t":7.618,"d":87},{"t":7.632,"d":36},{"t":7.647,"d":13},{"t":7.662,"d":1},{"t":7.676,"d":3},{"t":7.691,"d":20},{"t":7.706,"d":40},{"t":7.721,"d":64},{"t":7.735,"d":48},{"t":7.75,"d":44},{"t":7.765,"d":76},{"t":7.779,"d":56},{"t":7.794,"d":84},{"t":7.809,"d":64},{"t":7.824,"d":32},{"t":7.838,"d":52},{"t":7.853,"d":56},{"t":7.868,"d":24},{"t":7.882,"d":64},{"t":7.897,"d":95},{"t":7.912,"d":115},{"t":7.926,"d":127},{"t":7.941,"d":95},{"t":7.956,"d":64},{"t":7.971,"d":36},{"t":7.985,"d":9},{"t":8.0,"d":5},{"t":8.015,"d":64},{"t":8.029,"d":32},{"t":8.044,"d":9},{"t":8.059,"d":3},{"t":8.074,"d":1},{"t":8.103,"d":3},{"t":8.132,"d":1},{"t":8.162,"d":5},{"t":8.191,"d":1},{"t":8.221,"d":3},{"t":8.25,"d":5},{"t":8.265,"d":64},{"t":8.287,"d":80},{"t":8.309,"d":68},{"t":8.338,"d":76},{"t":8.368,"d":64},{"t":8.397,"d":44},{"t":8.426,"d":68},{"t":8.456,"d":44},{"t":8.485,"d":84},{"t":8.515,"d":60},
{"t":8.544,"d":52},{"t":8.566,"d":87},{"t":8.588,"d":60},{"t":8.61,"d":24},{"t":8.632,"d":22},{"t":8.654,"d":3},{"t":8.677,"d":1},{"t":8.699,"d":5},{"t":8.721,"d":36},{"t":8.743,"d":70},{"t":8.765,"d":89},{"t":8.787,"d":70},{"t":8.816,"d":76},{"t":8.846,"d":101},{"t":8.875,"d":70},{"t":8.904,"d":74},{"t":8.934,"d":76},{"t":8.963,"d":80},{"t":8.985,"d":115},{"t":9.007,"d":87},{"t":9.029,"d":80},{"t":9.052,"d":7},{"t":9.074,"d":3},{"t":9.096,"d":1},{"t":9.118,"d":48},{"t":9.14,"d":76},{"t":9.162,"d":135},{"t":9.184,"d":111},{"t":9.199,"d":48},{"t":9.213,"d":3},{"t":9.235,"d":1},{"t":9.257,"d":5},{"t":9.279,"d":3},{"t":9.302,"d":1},{"t":9.324,"d":44},{"t":9.346,"d":72},{"t":9.368,"d":80},{"t":9.39,"d":3},{"t":9.412,"d":68},{"t":9.434,"d":111},{"t":9.456,"d":72},{"t":9.478,"d":147},{"t":9.5,"d":84},{"t":9.522,"d":70},{"t":9.544,"d":107},{"t":9.566,"d":74},{"t":9.588,"d":115},{"t":9.61,"d":139},{"t":9.632,"d":87},{"t":9.654,"d":36},{"t":9.677,"d":34},{"t":9.699,"d":95},{"t":9.721,"d":123},{"t":9.743,"d":68},{"t":9.765,"d":84},{"t":9.787,"d":107},{"t":9.809,"d":60},{"t":9.831,"d":103},{"t":9.853,"d":3},{"t":9.875,"d":1},{"t":9.897,"d":72},{"t":9.919,"d":3},{"t":9.941,"d":95},{"t":9.963,"d":123},{"t":9.985,"d":48},{"t":10.007,"d":3},{"t":10.029,"d":1},{"t":10.066,"d":5},{"t":10.103,"d":3},{"t":10.14,"d":1},{"t":10.176,"d":3},{"t":10.213,"d":1},{"t":10.235,"d":5},{"t":10.257,"d":84},{"t":10.279,"d":115},{"t":10.302,"d":80},{"t":10.324,"d":60},{"t":10.346,"d":91},{"t":10.368,"d":111},{"t":10.39,"d":60},{"t":10.412,"d":115},{"t":10.434,"d":95},{"t":10.456,"d":70},{"t":10.478,"d":103},{"t":10.5,"d":87},{"t":10.522,"d":80},{"t":10.544,"d":131},{"t":10.566,"d":111},{"t":10.588,"d":64},{"t":10.61,"d":103},{"t":10.632,"d":3},{"t":10.654,"d":5},{"t":10.677,"d":1},{"t":10.706,"d":3},{"t":10.728,"d":1},{"t":10.75,"d":48},{"t":10.772,"d":91},{"t":10.794,"d":3},{"t":10.816,"d":64},{"t":10.838,"d":111},{"t":10.86,"d":135},{"t":10.882,"d":84},{"t":10.904,"d":3},{"t":10.926,"d":1},{"t":10.949,"d":3},{"t":10.971,"d":95},{"t":10.993,"d":1},{"t":11.015,"d":5},{"t":11.037,"d":97},{"t":11.059,"d":5},{"t":11.081,"d":1},{"t":11.103,"d":3},{"t":11.125,"d":1},{"t":11.147,"d":3},{"t":11.169,"d":1},{"t":11.191,"d":5},{"t":11.213,"d":3},{"t":11.235,"d":1},{"t":11.257,"d":44},{"t":11.279,"d":72},{"t":11.301,"d":111},{"t":11.324,"d":60},{"t":11.346,"d":76},{"t":11.368,"d":28},{"t":11.39,"d":3},{"t":11.412,"d":1},{"t":11.434,"d":7},{"t":11.456,"d":5},{"t":11.478,"d":3},{"t":11.5,"d":1},{"t":11.522,"d":3},{"t":11.544,"d":5},{"t":11.566,"d":1},{"t":11.588,"d":80},{"t":11.61,"d":91},{"t":11.632,"d":20},{"t":11.654,"d":103},{"t":11.676,"d":72},{"t":11.698,"d":3},{"t":11.721,"d":48},{"t":11.743,"d":127},{"t":11.765,"d":103},{"t":11.787,"d":125},{"t":11.809,"d":56},{"t":11.831,"d":3},{"t":11.853,"d":5},{"t":11.875,"d":1},{"t":11.897,"d":137},{"t":11.919,"d":44},{"t":11.941,"d":3},{"t":11.963,"d":1},{"t":11.985,"d":44},{"t":12.007,"d":119},{"t":12.029,"d":56},{"t":12.051,"d":99},{"t":12.073,"d":3},{"t":12.096,"d":1},{"t":12.118,"d":9},{"t":12.14,"d":5},{"t":12.162,"d":1},{"t":12.184,"d":44},{"t":12.206,"d":91},{"t":12.228,"d":40},{"t":12.25,"d":64},{"t":12.272,"d":91},{"t":12.294,"d":101},{"t":12.316,"d":7},{"t":12.338,"d":64},{"t":12.36,"d":84},{"t":12.382,"d":62},{"t":12.404,"d":91},{"t":12.426,"d":72},{"t":12.448,"d":52},{"t":12.471,"d":80},{"t":12.493,"d":103},{"t":12.515,"d":46},{"t":12.537,"d":111},{"t":12.559,"d":127},{"t":12.581,"d":147},{"t":12.603,"d":115},{"t":12.625,"d":84},{"t":12.647,"d":64},{"t":12.669,"d":20},{"t":12.691,"d":44},{"t":12.713,"d":24},{"t":12.735,"d":56},{"t":12.757,"d":103},{"t":12.779,"d":115},{"t":12.801,"d":99},{"t":12.823,"d":64},{"t":12.846,"d":3},{"t":12.868,"d":1},{"t":12.89,"d":5},{"t":12.912,"d":1},{"t":12.934,"d":3},{"t":12.956,"d":1},{"t":12.978,"d":28},{"t":13.0,"d":68},{"t":13.022,"d":84},{"t":13.044,"d":3},{"t":13.066,"d":1},{"t":13.088,"d":3},{"t":13.11,"d":76},{"t":13.132,"d":87},{"t":13.154,"d":3},{"t":13.176,"d":1},{"t":13.198,"d":3},{"t":13.221,"d":1},{"t":13.243,"d":87},{"t":13.265,"d":103},{"t":13.287,"d":131},{"t":13.309,"d":103},{"t":13.331,"d":131},{"t":13.353,"d":95},{"t":13.375,"d":115},{"t":13.397,"d":166},{"t":13.419,"d":119},{"t":13.441,"d":72},{"t":13.463,"d":3},{"t":13.485,"d":5},{"t":13.507,"d":76},{"t":13.529,"d":103},{"t":13.551,"d":149},{"t":13.574,"d":84},{"t":13.596,"d":107},{"t":13.618,"d":3},{"t":13.64,"d":1},{"t":13.662,"d":24},{"t":13.684,"d":1},{"t":13.706,"d":5},{"t":13.728,"d":64},{"t":13.75,"d":87},{"t":13.772,"d":3},{"t":13.794,"d":1},{"t":13.816,"d":103},{"t":13.838,"d":1},{"t":13.86,"d":3},{"t":13.882,"d":1},{"t":13.904,"d":5},{"t":13.926,"d":3},{"t":13.949,"d":1},{"t":13.971,"d":64},{"t":13.993,"d":80},{"t":14.015,"d":103},{"t":14.037,"d":87},{"t":14.059,"d":76},{"t":14.081,"d":107},{"t":14.103,"d":36},{"t":14.125,"d":40},{"t":14.147,"d":56},{"t":14.169,"d":20},{"t":14.191,"d":48},{"t":14.213,"d":103},{"t":14.235,"d":84},{"t":14.257,"d":20},{"t":14.279,"d":32},{"t":14.301,"d":103},{"t":14.324,"d":3},{"t":14.346,"d":24},{"t":14.368,"d":1},{"t":14.39,"d":3},{"t":14.412,"d":95},{"t":14.434,"d":64},{"t":14.456,"d":11},{"t":14.478,"d":32},{"t":14.5,"d":95},{"t":14.522,"d":52},{"t":14.544,"d":17},{"t":14.566,"d":76},{"t":14.588,"d":32},{"t":14.61,"d":137},{"t":14.632,"d":103},{"t":14.654,"d":64},{"t":14.676,"d":87},{"t":14.698,"d":103},{"t":14.721,"d":64},{"t":14.743,"d":162},{"t":14.765,"d":135},{"t":14.787,"d":84},{"t":14.809,"d":11},{"t":14.831,"d":64},{"t":14.853,"d":103},{"t":14.875,"d":95},{"t":14.897,"d":84},{"t":14.919,"d":149},{"t":14.941,"d":103},{"t":14.963,"d":87},{"t":14.985,"d":3},{"t":15.007,"d":5},{"t":15.029,"d":3},{"t":15.051,"d":20},{"t":15.073,"d":64},{"t":15.096,"d":103},{"t":15.118,"d":3},{"t":15.14,"d":1},{"t":15.162,"d":9},{"t":15.184,"d":3},{"t":15.206,"d":5},{"t":15.228,"d":1},{"t":15.25,"d":32},{"t":15.272,"d":3},{"t":15.294,"d":64},{"t":15.316,"d":103},{"t":15.338,"d":115},{"t":15.36,"d":22},{"t":15.382,"d":87},{"t":15.404,"d":99},{"t":15.426,"d":119},{"t":15.448,"d":64},{"t":15.471,"d":103},{"t":15.493,"d":147},{"t":15.515,"d":111},{"t":15.537,"d":103},{"t":15.559,"d":127},{"t":15.581,"d":119},{"t":15.603,"d":24},{"t":15.625,"d":131},{"t":15.647,"d":107},{"t":15.669,"d":56},{"t":15.691,"d":72},{"t":15.713,"d":135},{"t":15.735,"d":84},{"t":15.757,"d":84},{"t":15.779,"d":60},{"t":15.801,"d":64},{"t":15.823,"d":36},{"t":15.846,"d":103},{"t":15.868,"d":24},{"t":15.89,"d":135},{"t":15.912,"d":84},{"t":15.934,"d":60},{"t":15.956,"d":3},{"t":15.978,"d":1},{"t":16.0,"d":5},{"t":16.022,"d":3},{"t":16.044,"d":1},{"t":16.066,"d":5},{"t":16.088,"d":3},{"t":16.11,"d":1},{"t":16.132,"d":5},{"t":16.154,"d":13},{"t":16.176,"d":84},{"t":16.198,"d":99},{"t":16.221,"d":139},{"t":16.243,"d":111},{"t":16.265,"d":32},{"t":16.287,"d":76},{"t":16.309,"d":52},{"t":16.331,"d":99},{"t":16.353,"d":64},{"t":16.375,"d":103},{"t":16.397,"d":48},{"t":16.419,"d":115},{"t":16.441,"d":84},{"t":16.463,"d":103},{"t":16.485,"d":76},{"t":16.507,"d":64},{"t":16.529,"d":44},{"t":16.551,"d":32},{"t":16.574,"d":95},{"t":16.596,"d":115},{"t":16.618,"d":13},{"t":16.64,"d":103},{"t":16.662,"d":76},{"t":16.684,"d":99},{"t":16.706,"d":87},{"t":16.728,"d":80},{"t":16.75,"d":95},{"t":16.772,"d":103},{"t":16.794,"d":115},{"t":16.816,"d":119},{"t":16.838,"d":5},{"t":16.86,"d":3},{"t":16.882,"d":1},{"t":16.904,"d":9},{"t":16.926,"d":103},{"t":16.949,"d":127},{"t":16.971,"d":154},{"t":16.993,"d":135},{"t":17.015,"d":84},{"t":17.037,"d":64},{"t":17.059,"d":32},{"t":17.081,"d":36},{"t":17.103,"d":3},{"t":17.125,"d":24},{"t":17.147,"d":48},{"t":17.169,"d":5},{"t":17.191,"d":32},{"t":17.213,"d":13},{"t":17.235,"d":64},{"t":17.257,"d":56},{"t":17.279,"d":80},{"t":17.301,"d":64},{"t":17.324,"d":115},{"t":17.346,"d":44},{"t":17.368,"d":64},{"t":17.39,"d":60},{"t":17.412,"d":58},{"t":17.434,"d":84},{"t":17.456,"d":64},{"t":17.478,"d":95},{"t":17.5,"d":103},{"t":17.522,"d":170},{"t":17.544,"d":111},{"t":17.566,"d":32},{"t":17.588,"d":1}
]
},
"vconcat": [
{
 "width": 1088, "height": 206,
 "title": {"text": "5/16", "dx": -79, "dy": 45},
 "data": {"name": "d16"},
 "mark": {"type": "line", "color": "#0c0c8a", "strokeWidth": 1.1, "clip": true},
 "encoding": {
  "x": {"field": "t", "type": "quantitative", "scale": {"domain": [0, 24], "nice": false, "zero": false},
   "axis": {"orient": "top", "values": [0,1,2,3,4,5,6,7,8,9,10,11,12,13,14,15,16,17,18,19,20,21,22,23,24], "labelExpr": "datum.value % 4 === 0 ? (datum.value % 24) + ':00:00' : ''", "labelOverlap": false, "labelFlush": false, "labelBound": false, "labelFontSize": 15, "labelPadding": 11, "tickSize": 3, "grid": false, "title": "TIME (JST)", "titleFontSize": 17, "titlePadding": 18}},
  "y": {"field": "d", "type": "quantitative", "scale": {"domain": [0, 250], "reverse": true, "nice": false, "zero": false},
   "axis": {"values": [0,10,20,30,40,50,60,70,80,90,100,110,120,130,140,150,160,170,180,190,200,210,220,230,240,250], "labelExpr": "datum.value % 50 === 0 ? datum.value : ''", "labelOverlap": false, "labelFlush": false, "labelFontSize": 18, "labelPadding": 10, "tickSize": 6, "grid": true, "gridColor": "#444444", "gridDash": [8, 5], "gridWidth": 1, "gridOpacity": {"condition": {"test": "datum.value % 50 === 0 && datum.value > 0 && datum.value < 250", "value": 1}, "value": 0}, "title": "DEPTH (m)", "titleFontSize": 19, "titlePadding": 14}}
 }
},
{
 "width": 1088, "height": 215,
 "title": {"text": "5/17", "dx": -84, "dy": 28.5},
 "data": {"name": "d17"},
 "mark": {"type": "line", "color": "#0c0c8a", "strokeWidth": 1.1, "clip": true},
 "encoding": {
  "x": {"field": "t", "type": "quantitative", "scale": {"domain": [0, 24], "nice": false, "zero": false},
   "axis": {"orient": "top", "values": [0,1,2,3,4,5,6,7,8,9,10,11,12,13,14,15,16,17,18,19,20,21,22,23,24], "labelExpr": "datum.value % 4 === 0 ? (datum.value % 24) + ':00:00' : ''", "labelOverlap": false, "labelFlush": false, "labelBound": false, "labelFontSize": 15, "labelPadding": 11, "tickSize": 3, "grid": false, "title": null}},
  "y": {"field": "d", "type": "quantitative", "scale": {"domain": [0, 250], "reverse": true, "nice": false, "zero": false},
   "axis": {"values": [0,10,20,30,40,50,60,70,80,90,100,110,120,130,140,150,160,170,180,190,200,210,220,230,240,250], "labelExpr": "datum.value % 50 === 0 ? datum.value : ''", "labelOverlap": false, "labelFlush": false, "labelFontSize": 18, "labelPadding": 10, "tickSize": 6, "grid": true, "gridColor": "#444444", "gridDash": [8, 5], "gridWidth": 1, "gridOpacity": {"condition": {"test": "datum.value % 50 === 0 && datum.value > 0 && datum.value < 250", "value": 1}, "value": 0}, "title": "DEPTH (m)", "titleFontSize": 19, "titlePadding": 14}}
 }
},
{
 "width": 1088, "height": 211,
 "title": {"text": "5/18", "dx": -79, "dy": 27.5},
 "data": {"name": "d18"},
 "mark": {"type": "line", "color": "#0c0c8a", "strokeWidth": 1.1, "clip": true},
 "encoding": {
  "x": {"field": "t", "type": "quantitative", "scale": {"domain": [0, 24], "nice": false, "zero": false},
   "axis": {"orient": "top", "values": [0,1,2,3,4,5,6,7,8,9,10,11,12,13,14,15,16,17,18,19,20,21,22,23,24], "labelExpr": "datum.value % 4 === 0 ? (datum.value % 24) + ':00:00' : ''", "labelOverlap": false, "labelFlush": false, "labelBound": false, "labelFontSize": 15, "labelPadding": 11, "tickSize": 3, "grid": false, "title": null}},
  "y": {"field": "d", "type": "quantitative", "scale": {"domain": [0, 250], "reverse": true, "nice": false, "zero": false},
   "axis": {"values": [0,10,20,30,40,50,60,70,80,90,100,110,120,130,140,150,160,170,180,190,200,210,220,230,240,250], "labelExpr": "datum.value % 50 === 0 ? datum.value : ''", "labelOverlap": false, "labelFlush": false, "labelFontSize": 18, "labelPadding": 10, "tickSize": 6, "grid": true, "gridColor": "#444444", "gridDash": [8, 5], "gridWidth": 1, "gridOpacity": {"condition": {"test": "datum.value % 50 === 0 && datum.value > 0 && datum.value < 250", "value": 1}, "value": 0}, "title": "DEPTH (m)", "titleFontSize": 19, "titlePadding": 14}}
 }
}
]
}
